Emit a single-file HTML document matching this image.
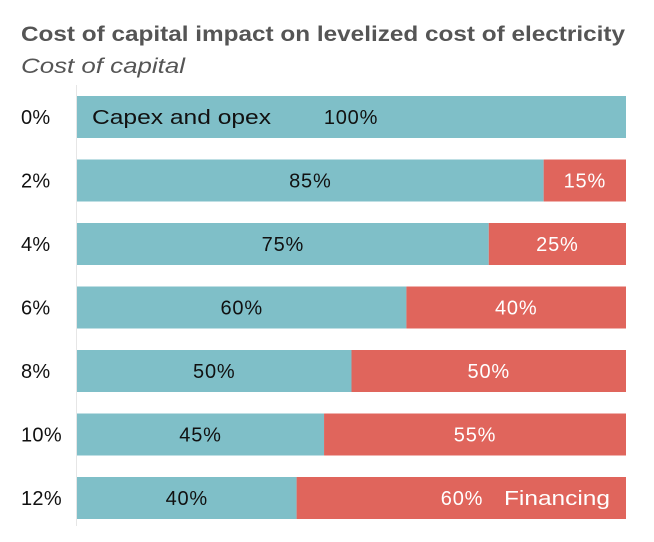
<!DOCTYPE html>
<html><head><meta charset="utf-8"><style>
body{margin:0;background:#fff;width:654px;height:537px;overflow:hidden;font-family:"Liberation Sans",sans-serif}
</style></head><body>
<svg width="654" height="537">
<text x="21" y="41" font-size="21" font-weight="bold" fill="#555" textLength="604" lengthAdjust="spacingAndGlyphs">Cost of capital impact on levelized cost of electricity</text>
<text x="21" y="73" font-size="21" font-style="italic" fill="#555" textLength="164" lengthAdjust="spacingAndGlyphs">Cost of capital</text>
<line x1="76.5" y1="85" x2="76.5" y2="526" stroke="#e6e6e6" stroke-width="1"/>
<g id="bars"></g>
</svg>
<script>
const categories=["0%","2%","4%","6%","8%","10%","12%"];
const capexValues=[100,85,75,60,50,45,40];
const financingValues=[0,15,25,40,50,55,60];
const x0=77,x1=626,yTop=96,pitch=63.5,bh=42;
const xs=v=>x0+(x1-x0)*v/100;
const g=document.getElementById('bars');
const NS='http://www.w3.org/2000/svg';
function mk(t,a){const e=document.createElementNS(NS,t);for(const k in a)e.setAttribute(k,a[k]);g.appendChild(e);return e;}
const FS=20,LS=0.8;
categories.forEach((c,i)=>{
  const y=yTop+i*pitch;
  const lab=mk('text',{x:21,y:y+bh/2+7,'font-size':FS,fill:'#111','letter-spacing':0.3});lab.textContent=c;
  
  
  const cv=capexValues[i],fv=financingValues[i];
  const r1=mk('rect',{x:xs(0),y:y,width:xs(cv)-xs(0),height:bh,fill:'#7fbfc8'});
  
  
  if(fv>0){
    const r2=mk('rect',{x:xs(cv),y:y,width:xs(cv+fv)-xs(cv),height:bh,fill:'#e0655c'});
    
    
  }
  const ty=y+bh/2+7;
  if(i===0){
    const a=mk('text',{x:92,y:ty,'font-size':FS,fill:'#111',textLength:179,lengthAdjust:'spacingAndGlyphs'});a.textContent='Capex and opex';
    
    
    const b=mk('text',{x:351,y:ty,'font-size':FS,fill:'#111','text-anchor':'middle','letter-spacing':LS});b.textContent=cv+'%';
    
    
  } else {
    const b=mk('text',{x:(xs(0)+xs(cv))/2,y:ty,'font-size':FS,fill:'#111','text-anchor':'middle','letter-spacing':LS});b.textContent=cv+'%';
    
    
    if(i===categories.length-1){
      const f=mk('text',{x:462,y:ty,'font-size':FS,fill:'#fff','text-anchor':'middle','letter-spacing':LS});f.textContent=fv+'%';
      
      
      const l=mk('text',{x:504,y:ty,'font-size':FS,fill:'#fff',textLength:106,lengthAdjust:'spacingAndGlyphs'});l.textContent='Financing';
      
      
    } else {
      const f=mk('text',{x:(xs(cv)+xs(cv+fv))/2,y:ty,'font-size':FS,fill:'#fff','text-anchor':'middle','letter-spacing':LS});f.textContent=fv+'%';
      
      
    }
  }
});
</script>
</body></html>
